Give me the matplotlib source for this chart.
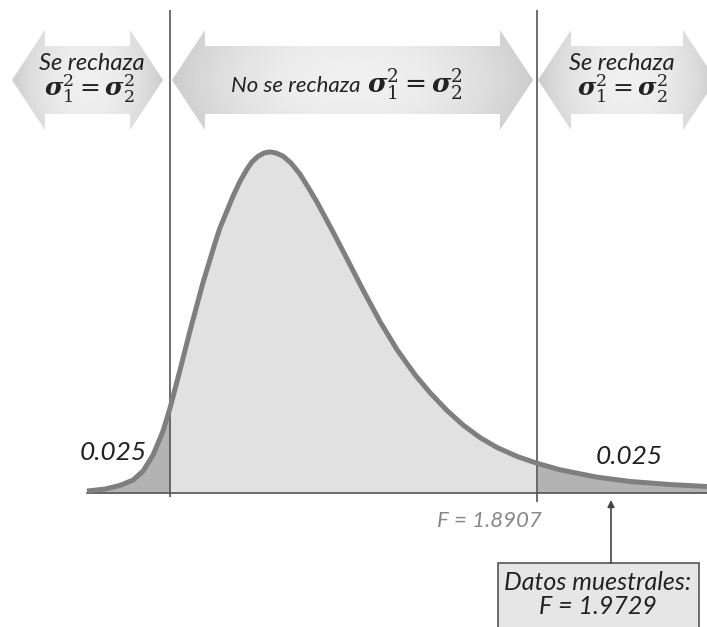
import numpy as np
import matplotlib
matplotlib.use("Agg")
import matplotlib.pyplot as plt
from matplotlib.patches import Polygon, Rectangle

# F curve: (F value, density)
f_vals = [0.221, 0.288, 0.343, 0.392, 0.429, 0.466, 0.503, 0.529, 0.566, 0.603,
          0.651, 0.696, 0.714, 0.763, 0.789, 0.815, 0.833, 0.855, 0.878, 0.900,
          0.922, 0.948, 0.978, 1.011, 1.041, 1.074, 1.134, 1.186, 1.245, 1.308,
          1.371, 1.438, 1.494, 1.557, 1.616, 1.679, 1.742, 1.817, 1.891, 1.976,
          2.113, 2.236, 2.384, 2.521]
dens = [0.011, 0.022, 0.042, 0.072, 0.122, 0.211, 0.344, 0.472, 0.683, 0.900,
        1.167, 1.389, 1.472, 1.650, 1.733, 1.800, 1.839, 1.870, 1.889, 1.895,
        1.889, 1.872, 1.833, 1.772, 1.700, 1.617, 1.450, 1.300, 1.128, 0.953,
        0.797, 0.657, 0.557, 0.458, 0.378, 0.308, 0.253, 0.203, 0.165, 0.129,
        0.088, 0.064, 0.047, 0.036]

crit_lo = 0.529
crit_hi = 1.891
crit_hi_label = "1.8907"
f_obs_label = "1.9729"
alpha_tail = "0.025"

top_left = "Se rechaza"
top_mid = "No se rechaza"
top_right = "Se rechaza"
hyp = r"$\boldsymbol{\sigma}_{1}^{2} = \boldsymbol{\sigma}_{2}^{2}$"

plt.rcParams["mathtext.fontset"] = "dejavuserif"
hand = ["Lato", "DejaVu Sans"]

W, H = 707, 627
fig = plt.figure(figsize=(W / 100, H / 100), dpi=100)

# data axes (F units)
ax = fig.add_axes([0, 0, 1, 1])
ax.set_xlim(-0.1019, 2.5215)
ax.set_ylim(-0.7445, 2.739)
ax.axis("off")

x = np.array(f_vals)
y = np.array(dens)
mid = (x >= crit_lo) & (x <= crit_hi)
ax.fill_between(x, 0, y, where=mid, color="#e1e1e1", lw=0, zorder=1)
ax.fill_between(x, 0, y, where=x <= crit_lo, color="#b3b3b3", lw=0, zorder=1)
ax.fill_between(x, 0, y, where=x >= crit_hi, color="#b3b3b3", lw=0, zorder=1)
ax.plot(x, y, color="#7f7f7f", lw=3.6, solid_capstyle="butt",
        solid_joinstyle="round", zorder=3)
ax.plot([x[0], 2.5215], [0, 0], color="#555555", lw=1.2, zorder=2)
ax.vlines(crit_lo, -0.025, 2.683, color="#555555", lw=1.2, zorder=2)
ax.vlines(crit_hi, -0.05, 2.683, color="#555555", lw=1.2, zorder=2)

# overlay in pixel space for the arrows and labels
ov = fig.add_axes([0, 0, 1, 1])
ov.set_xlim(0, W)
ov.set_ylim(H, 0)
ov.axis("off")
ov.patch.set_alpha(0)


def big_arrow(x0, x1, head=33, cy=80, body=34, half=50):
    pts = [(x0, cy), (x0 + head, cy - half), (x0 + head, cy - body),
           (x1 - head, cy - body), (x1 - head, cy - half), (x1, cy),
           (x1 - head, cy + half), (x1 - head, cy + body),
           (x0 + head, cy + body), (x0 + head, cy + half)]
    poly = Polygon(pts, closed=True, fc="none", ec="none")
    ov.add_patch(poly)
    gx = np.linspace(-1, 1, 200)
    gy = np.linspace(-1, 1, 60)
    X, Y = np.meshgrid(gx, gy)
    val = 0.94 - 0.14 * np.abs(X) ** 2.2 - 0.03 * Y ** 2
    im = ov.imshow(val, cmap="gray", vmin=0, vmax=1, aspect="auto",
                   extent=(x0, x1, cy + half, cy - half), zorder=1,
                   interpolation="bilinear")
    im.set_clip_path(poly)


big_arrow(12, 163)
big_arrow(172, 533)
big_arrow(538, 716)

txt = dict(ha="center", va="center", style="italic", family=hand,
           color="#222222")
ov.text(92, 63, top_left, fontsize=17, **txt)
ov.text(89, 89, hyp, ha="center", va="center", fontsize=18, color="#222222")
ov.text(622, 63, top_right, fontsize=17, **txt)
ov.text(622, 89, hyp, ha="center", va="center", fontsize=18, color="#222222")
ov.text(296, 86, top_mid, fontsize=16, **txt)
ov.text(415, 84, hyp, ha="center", va="center", fontsize=19, color="#222222")

ov.text(113, 452, alpha_tail, fontsize=19, **txt)
ov.text(629, 456, alpha_tail, fontsize=19, **txt)
ov.text(489, 521, "F = " + crit_hi_label, ha="center", va="center",
        fontsize=16, style="italic", family=hand, color="#888888")

# sample box with arrow
ov.add_patch(Rectangle((498, 563), 201, 66, fc="#e6e6e6", ec="#555555",
                       lw=1.2, zorder=3))
ov.annotate("", xy=(611, 500), xytext=(611, 563),
            arrowprops=dict(arrowstyle="-|>", color="#444444", lw=1.2,
                            mutation_scale=10, shrinkA=0, shrinkB=0))
ov.text(598, 582, "Datos muestrales:", fontsize=18, zorder=4, **txt)
ov.text(598, 607, "F = " + f_obs_label, fontsize=18, zorder=4, **txt)

fig.savefig("out.png", dpi=100)
